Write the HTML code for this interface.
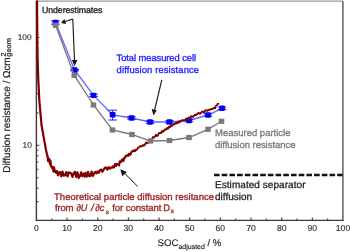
<!DOCTYPE html><html><head><meta charset="utf-8"><style>html,body{margin:0;padding:0;background:#fff;width:350px;height:252px;overflow:hidden}svg{display:block;will-change:transform}text{font-family:"Liberation Sans",sans-serif;text-rendering:geometricPrecision}</style></head><body>
<svg width="350" height="252" viewBox="0 0 350 252">
<rect width="350" height="252" fill="#fff"/>
<line x1="36.4" y1="1.1" x2="342.9" y2="1.1" stroke="#989898" stroke-width="1.4"/>
<line x1="342.9" y1="1" x2="342.9" y2="220.4" stroke="#6a6a6a" stroke-width="1.6"/>
<line x1="36.4" y1="0.8" x2="36.4" y2="221.1" stroke="#3a3a3a" stroke-width="1.4"/>
<line x1="35.7" y1="220.4" x2="343.6" y2="220.4" stroke="#3a3a3a" stroke-width="1.4"/>
<path d="M51.73 220.4V218.4 M67.06 220.4V217.4 M82.39 220.4V218.4 M97.72 220.4V217.4 M113.05 220.4V218.4 M128.38 220.4V217.4 M143.71 220.4V218.4 M159.04 220.4V217.4 M174.37 220.4V218.4 M189.70 220.4V217.4 M205.03 220.4V218.4 M220.36 220.4V217.4 M235.69 220.4V218.4 M251.02 220.4V217.4 M266.35 220.4V218.4 M281.68 220.4V217.4 M297.01 220.4V218.4 M312.34 220.4V217.4 M327.67 220.4V218.4" stroke="#3a3a3a" stroke-width="1.1" fill="none"/>
<text x="36.40" y="231.2" font-size="8.6" fill="#333" stroke="#333" stroke-width="0.15" text-anchor="middle">0</text>
<text x="67.06" y="231.2" font-size="8.6" fill="#333" stroke="#333" stroke-width="0.15" text-anchor="middle">10</text>
<text x="97.72" y="231.2" font-size="8.6" fill="#333" stroke="#333" stroke-width="0.15" text-anchor="middle">20</text>
<text x="128.38" y="231.2" font-size="8.6" fill="#333" stroke="#333" stroke-width="0.15" text-anchor="middle">30</text>
<text x="159.04" y="231.2" font-size="8.6" fill="#333" stroke="#333" stroke-width="0.15" text-anchor="middle">40</text>
<text x="189.70" y="231.2" font-size="8.6" fill="#333" stroke="#333" stroke-width="0.15" text-anchor="middle">50</text>
<text x="220.36" y="231.2" font-size="8.6" fill="#333" stroke="#333" stroke-width="0.15" text-anchor="middle">60</text>
<text x="251.02" y="231.2" font-size="8.6" fill="#333" stroke="#333" stroke-width="0.15" text-anchor="middle">70</text>
<text x="281.68" y="231.2" font-size="8.6" fill="#333" stroke="#333" stroke-width="0.15" text-anchor="middle">80</text>
<text x="312.34" y="231.2" font-size="8.6" fill="#333" stroke="#333" stroke-width="0.15" text-anchor="middle">90</text>
<text x="343.00" y="231.2" font-size="8.6" fill="#333" stroke="#333" stroke-width="0.15" text-anchor="middle">100</text>
<path d="M36.4 201.67H38.4 M36.4 188.20H38.4 M36.4 177.75H38.4 M36.4 169.22H38.4 M36.4 162.00H38.4 M36.4 155.75H38.4 M36.4 150.23H38.4 M36.4 145.30H39.4 M36.4 112.85H38.4 M36.4 93.87H38.4 M36.4 80.40H38.4 M36.4 69.95H38.4 M36.4 61.42H38.4 M36.4 54.20H38.4 M36.4 47.95H38.4 M36.4 42.43H38.4 M36.4 37.50H39.4 M36.4 5.05H38.4" stroke="#3a3a3a" stroke-width="1.1" fill="none"/>
<text x="31.6" y="39.8" font-size="8.3" fill="#333" stroke="#333" stroke-width="0.15" text-anchor="end">100</text>
<text x="31.8" y="147.9" font-size="8.4" fill="#333" stroke="#333" stroke-width="0.15" text-anchor="end">10</text>
<text x="157.6" y="246.4" font-size="9.6" fill="#222" stroke="#222" stroke-width="0.15">SOC<tspan font-size="7" dy="2.6">adjusted</tspan><tspan dy="-2.6"> / %</tspan></text>
<g transform="translate(9.8,172.8) rotate(-90)"><text x="0" y="0" font-size="10" fill="#1e1e1e" stroke="#1e1e1e" stroke-width="0.22"><tspan textLength="115.5" lengthAdjust="spacing">Diffusion resistance / Ωcm</tspan><tspan font-size="7.2" dx="0.8" dy="-4">2</tspan><tspan font-size="7" dx="-4.1" dy="5.2" textLength="18.5" lengthAdjust="spacingAndGlyphs">geom</tspan></text></g>
<path d="M55.5 22.5 L74.6 70 L93.5 95.4 L112.6 114.8 L131.5 118 L150 122 L169.5 122 L189 120.5 L208 115 L222 108.3" stroke="#6464ff" stroke-width="1.35" fill="none"/>
<path d="M55.5 21V24.2 M51.2 21H59.8 M51.2 24.2H59.8" stroke="#2020ff" stroke-width="1" fill="none"/>
<rect x="52.6" y="19.8" width="5.8" height="5.4" rx="1" fill="#0000f0"/>
<path d="M74.6 69.4V70.8 M70.3 69.4H78.89999999999999 M70.3 70.8H78.89999999999999" stroke="#2020ff" stroke-width="1" fill="none"/>
<rect x="71.69999999999999" y="67.3" width="5.8" height="5.4" rx="1" fill="#0000f0"/>
<path d="M93.5 94.2V96.5 M89.2 94.2H97.8 M89.2 96.5H97.8" stroke="#2020ff" stroke-width="1" fill="none"/>
<rect x="90.6" y="92.7" width="5.8" height="5.4" rx="1" fill="#0000f0"/>
<path d="M112.6 110.2V120 M108.3 110.2H116.89999999999999 M108.3 120H116.89999999999999" stroke="#2020ff" stroke-width="1" fill="none"/>
<rect x="109.69999999999999" y="112.1" width="5.8" height="5.4" rx="1" fill="#0000f0"/>
<path d="M131.5 116.8V119.2 M127.2 116.8H135.8 M127.2 119.2H135.8" stroke="#2020ff" stroke-width="1" fill="none"/>
<rect x="128.6" y="115.3" width="5.8" height="5.4" rx="1" fill="#0000f0"/>
<path d="M150 120.8V123.4 M145.7 120.8H154.3 M145.7 123.4H154.3" stroke="#2020ff" stroke-width="1" fill="none"/>
<rect x="147.1" y="119.3" width="5.8" height="5.4" rx="1" fill="#0000f0"/>
<path d="M169.5 120.8V123.2 M165.2 120.8H173.8 M165.2 123.2H173.8" stroke="#2020ff" stroke-width="1" fill="none"/>
<rect x="166.6" y="119.3" width="5.8" height="5.4" rx="1" fill="#0000f0"/>
<path d="M189 119.3V121.7 M184.7 119.3H193.3 M184.7 121.7H193.3" stroke="#2020ff" stroke-width="1" fill="none"/>
<rect x="186.1" y="117.8" width="5.8" height="5.4" rx="1" fill="#0000f0"/>
<path d="M208 113.8V116.2 M203.7 113.8H212.3 M203.7 116.2H212.3" stroke="#2020ff" stroke-width="1" fill="none"/>
<rect x="205.1" y="112.3" width="5.8" height="5.4" rx="1" fill="#0000f0"/>
<path d="M222 107.1V109.5 M217.7 107.1H226.3 M217.7 109.5H226.3" stroke="#2020ff" stroke-width="1" fill="none"/>
<rect x="219.1" y="105.6" width="5.8" height="5.4" rx="1" fill="#0000f0"/>
<path d="M37.00 0.50 L37.01 1.71 L37.02 2.92 L37.03 4.13 L37.04 5.34 L37.06 6.56 L37.07 7.77 L37.08 8.98 L37.09 10.19 L37.10 11.40 L37.11 12.61 L37.12 13.82 L37.13 15.03 L37.14 16.24 L37.16 17.46 L37.17 18.67 L37.18 19.88 L37.19 21.09 L37.20 22.30 L37.21 23.51 L37.22 24.72 L37.23 25.93 L37.24 27.14 L37.26 28.36 L37.27 29.57 L37.28 30.78 L37.29 31.99 L37.30 33.20 L37.31 34.41 L37.32 35.62 L37.33 36.83 L37.34 38.04 L37.36 39.26 L37.37 40.47 L37.38 41.68 L37.39 42.89 L37.40 44.10 L37.41 45.31 L37.42 46.52 L37.43 47.73 L37.44 48.94 L37.46 50.16 L37.47 51.37 L37.48 52.58 L37.49 53.79 L37.50 55.00 L37.54 56.19 L37.58 57.38 L37.61 58.57 L37.65 59.76 L37.69 60.95 L37.73 62.14 L37.77 63.33 L37.80 64.52 L37.84 65.71 L37.88 66.90 L37.92 68.10 L37.96 69.29 L38.00 70.48 L38.03 71.67 L38.07 72.86 L38.11 74.05 L38.15 75.24 L38.19 76.43 L38.22 77.62 L38.26 78.81 L38.30 80.00 L38.36 81.18 L38.42 82.35 L38.48 83.53 L38.54 84.71 L38.59 85.88 L38.65 87.06 L38.71 88.24 L38.77 89.41 L38.83 90.59 L38.89 91.76 L38.95 92.94 L39.01 94.12 L39.06 95.29 L39.12 96.47 L39.18 97.65 L39.24 98.82 L39.30 100.00 L39.40 101.19 L39.51 102.38 L39.61 103.57 L39.72 104.76 L39.82 105.95 L39.93 107.14 L40.03 108.33 L40.14 109.52 L40.24 110.71 L40.35 111.90 L40.45 113.10 L40.56 114.29 L40.66 115.48 L40.77 116.67 L40.87 117.86 L40.98 119.05 L41.08 120.24 L41.19 121.43 L41.29 122.62 L41.40 123.81 L41.50 125.00 L41.71 126.19 L41.93 127.38 L42.14 128.57 L42.36 129.76 L42.57 130.95 L42.79 132.14 L43.00 133.33 L43.21 134.52 L43.43 135.71 L43.64 136.90 L43.86 138.10 L44.07 139.29 L44.29 140.48 L44.50 141.67 L44.71 142.86 L44.93 144.05 L45.14 145.24 L45.36 146.43 L45.57 147.62 L45.79 148.81 L46.00 150.00 L46.25 151.12 L46.50 152.25 L46.75 153.38 L47.00 154.50 L47.25 154.80 L47.50 157.35 L47.75 156.44 L48.00 160.84 L48.50 158.37 L49.00 161.65 L49.50 159.25 L50.00 164.03 L50.50 160.90 L51.00 166.52 L51.60 166.42 L52.20 168.02 L52.80 166.97 L53.40 171.32 L54.00 167.45 L54.75 171.78 L55.50 170.58 L56.25 172.95 L57.00 171.19 L58.00 175.36 L59.00 172.55 L60.00 171.91 L61.25 176.40 L62.50 171.53 L63.75 175.70 L65.00 175.28 L66.25 172.06 L67.50 176.46 L68.75 172.44 L70.00 172.77 L71.25 173.51 L72.50 176.89 L73.75 173.11 L75.00 171.71 L76.25 177.09 L77.50 172.40 L78.75 178.03 L80.00 176.00 L81.14 172.31 L82.29 176.14 L83.43 173.52 L84.57 176.64 L85.71 172.77 L86.86 176.57 L88.00 171.83 L89.20 176.28 L90.40 176.08 L91.60 171.50 L92.80 175.86 L94.00 173.62 L95.20 171.89 L96.40 173.37 L97.60 171.32 L98.80 172.74 L100.00 170.26 L101.20 169.54 L102.40 171.83 L103.60 169.66 L104.80 167.89 L106.00 167.36 L107.33 169.71 L108.67 167.18 L110.00 168.66 L111.00 167.32 L112.00 167.73 L113.00 166.44 L114.00 167.38 L115.00 164.15 L116.00 165.85 L117.00 163.92 L118.00 164.66 L119.00 165.29 L120.00 161.31 L121.00 161.92 L121.80 159.99 L122.60 159.38 L123.40 161.01 L124.20 157.80 L125.00 157.66 L126.00 155.70 L127.00 155.28 L128.00 155.90 L129.00 153.80 L130.00 154.91 L131.00 152.94 L132.00 151.49 L133.00 150.97 L134.00 150.33 L135.00 151.15 L136.00 149.70" stroke="#800000" stroke-width="2.2" fill="none" stroke-linejoin="round"/>
<path d="M136.00 149.70 L137.00 149.63 L138.00 147.76 L139.00 147.36 L140.00 146.19 L141.00 146.14 L142.00 146.34 L143.00 144.98 L144.00 145.69 L145.00 144.61 L146.00 142.37 L147.00 143.39 L148.00 142.81 L149.00 141.81 L150.00 139.58 L151.00 140.63 L152.00 139.43 L153.00 137.03 L154.00 137.60 L155.00 136.22 L156.00 134.87 L157.00 136.05 L158.00 135.19 L159.00 133.02 L160.00 133.12 L161.00 132.97 L162.00 130.90 L163.00 131.86 L164.00 130.71 L165.00 129.47 L166.00 129.70 L167.00 128.05 L168.00 128.63 L169.00 126.70 L170.00 127.30 L171.00 125.15 L172.00 125.93 L173.00 124.76 L174.00 124.59 L175.00 123.08 L176.00 123.81 L177.00 122.35 L178.00 122.92 L179.00 121.25 L180.00 122.04 L181.25 120.68 L182.50 120.00 L183.75 120.69 L185.00 119.95 L186.25 118.51 L187.50 119.14 L188.75 117.48 L190.00 118.33 L191.00 116.26 L192.00 116.28 L193.00 116.95 L194.00 115.87 L195.00 114.75 L196.25 114.99 L197.50 113.58 L198.75 112.90 L200.00 113.86 L201.25 112.51 L202.50 111.40 L203.75 112.61 L205.00 110.82 L206.25 110.10 L207.50 110.84 L208.75 109.58 L210.00 109.85 L211.25 108.95 L212.50 109.09 L213.75 107.86 L215.00 108.30 L215.75 106.29 L216.50 105.65 L217.00 105.25 L217.50 104.00 L218.20 103.80" stroke="#800000" stroke-width="1.9" fill="none" stroke-linejoin="round" stroke-linecap="round"/>
<path d="M55.6 25.3 L74.3 75.4 L93.5 105 L112.5 130 L132 134.5 L150.5 141 L169.5 140.5 L189 137.5 L208 129.3 L221.5 121.3" stroke="#777" stroke-width="1.3" fill="none"/>
<rect x="52.800000000000004" y="22.7" width="5.6" height="5.2" fill="#7a7a7a"/>
<rect x="71.5" y="72.80000000000001" width="5.6" height="5.2" fill="#7a7a7a"/>
<rect x="90.7" y="102.4" width="5.6" height="5.2" fill="#7a7a7a"/>
<rect x="109.7" y="127.4" width="5.6" height="5.2" fill="#7a7a7a"/>
<rect x="129.2" y="131.9" width="5.6" height="5.2" fill="#7a7a7a"/>
<rect x="147.7" y="138.4" width="5.6" height="5.2" fill="#7a7a7a"/>
<rect x="166.7" y="137.9" width="5.6" height="5.2" fill="#7a7a7a"/>
<rect x="186.2" y="134.9" width="5.6" height="5.2" fill="#7a7a7a"/>
<rect x="205.2" y="126.70000000000002" width="5.6" height="5.2" fill="#7a7a7a"/>
<rect x="218.7" y="118.7" width="5.6" height="5.2" fill="#7a7a7a"/>
<line x1="214" y1="175" x2="342.6" y2="175" stroke="#111" stroke-width="2.3" stroke-dasharray="5.6 2.1"/>
<path d="M72.8 19 L64.5 21.8 M72.8 19 L74.6 63" stroke="#111" stroke-width="1.1" fill="none"/>
<path d="M61 23 L64.3 19 L66.2 24 Z" fill="#111"/>
<path d="M74.6 66 L71.9 60 L77.3 60 Z" fill="#111"/>
<path d="M161.8 79.8 L154.6 110" stroke="#111" stroke-width="1.1" fill="none"/>
<path d="M153.4 115.6 L151.7 109 L156.8 110.2 Z" fill="#111"/>
<path d="M137.6 186.4 L124.2 172.8" stroke="#111" stroke-width="1" fill="none"/>
<path d="M120.3 169.3 L126.8 172 L122.4 176.2 Z" fill="#111"/>
<text x="42" y="13" font-size="8.8" fill="#222" stroke="#222" stroke-width="0.32" textLength="60.4" lengthAdjust="spacing">Underestimates</text>
<text x="116.6" y="61" font-size="9.4" fill="#2020ff" stroke="#2020ff" stroke-width="0.32" textLength="79.4" lengthAdjust="spacing">Total measured cell</text>
<text x="116.6" y="72.8" font-size="9.4" fill="#2020ff" stroke="#2020ff" stroke-width="0.32" textLength="82.4" lengthAdjust="spacing">diffusion resistance</text>
<text x="215" y="136" font-size="9.5" fill="#7a7a7a" stroke="#7a7a7a" stroke-width="0.32" textLength="75.5" lengthAdjust="spacing">Measured particle</text>
<text x="215" y="147.5" font-size="9.5" fill="#7a7a7a" stroke="#7a7a7a" stroke-width="0.32" textLength="80.5" lengthAdjust="spacing">diffusion resistance</text>
<text x="54" y="199.5" font-size="9.5" fill="#9b2226" stroke="#9b2226" stroke-width="0.32" textLength="160" lengthAdjust="spacing">Theoretical particle diffusion resitance</text>
<text y="210.7" font-size="9.5" fill="#9b2226" stroke="#9b2226" stroke-width="0.32"><tspan x="55" textLength="18.5" lengthAdjust="spacing">from</tspan><tspan x="76.4" font-style="italic" font-size="9.6" textLength="11" lengthAdjust="spacingAndGlyphs">∂U</tspan><tspan x="91" font-style="italic" font-size="10.2">/</tspan><tspan x="95.2" font-style="italic" font-size="9.6" textLength="9.2" lengthAdjust="spacingAndGlyphs">∂c</tspan><tspan x="105.8" font-size="6.2" dy="3">s</tspan><tspan x="112.2" dy="-3" textLength="49.2" lengthAdjust="spacing">for constant</tspan><tspan x="163.3">D</tspan><tspan x="170.8" font-size="6" dy="2">s</tspan></text>
<text x="215" y="187.5" font-size="10" fill="#1a1a1a" stroke="#1a1a1a" stroke-width="0.25" textLength="90.5" lengthAdjust="spacing">Estimated separator</text>
<text x="215" y="199.5" font-size="10" fill="#1a1a1a" stroke="#1a1a1a" stroke-width="0.25">diffusion</text>
</svg></body></html>
